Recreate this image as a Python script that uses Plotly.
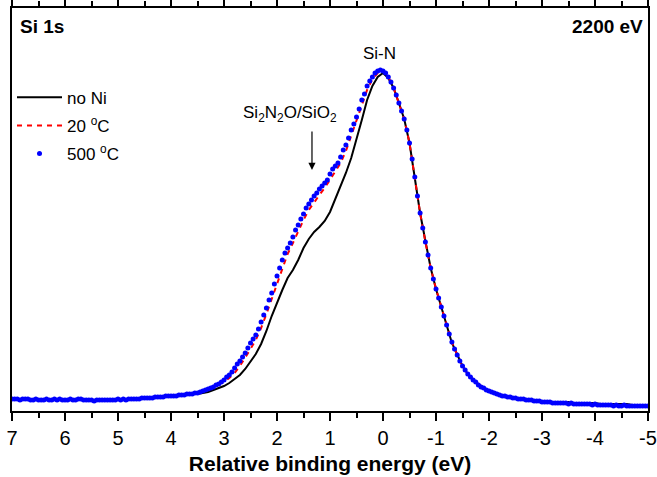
import numpy as np
import plotly.graph_objects as go

# Intensities (arbitrary units) vs relative binding energy (eV), from 7 to -5 eV
no_ni = [12, 12, 12, 12, 12, 12, 11, 11, 11, 11,
         11, 11, 11, 11, 11, 11, 11, 11, 11, 11,
         12, 12, 12, 12, 12, 12, 13, 13, 14, 14,
         15, 15, 16, 16, 17, 17, 18, 19, 21, 23,
         25, 28, 32, 36, 42, 49, 57, 67, 80, 95,
         109, 121, 133, 141, 151, 163, 172, 179, 184, 190,
         199, 212, 226, 238, 253, 271, 291, 311, 325, 334,
         338, 333, 323, 308, 292, 268, 232, 198, 170, 143,
         122, 105, 86, 68, 56, 45, 37, 31, 27, 23,
         20, 18, 16, 15, 14, 13, 13, 12, 11, 10,
         10, 9, 9, 9, 9, 9, 8, 8, 8, 8,
         8, 7, 7, 7, 7, 7, 7, 6, 6, 6,
         6]

t20 = [12, 12, 12, 12, 11, 12, 11, 11, 12, 11,
       11, 12, 11, 12, 12, 11, 11, 11, 12, 11,
       12, 12, 12, 12, 12, 13, 13, 14, 14, 15,
       15, 15, 16, 17, 17, 18, 20, 22, 24, 27,
       29, 33, 38, 45, 53, 62, 71, 83, 97, 112,
       128, 144, 157, 168, 180, 191, 201, 209, 216, 223,
       231, 240, 248, 260, 275, 289, 305, 321, 332, 338,
       340, 334, 323, 308, 292, 268, 234, 198, 169, 143,
       122, 104, 86, 69, 56, 45, 37, 31, 27, 23,
       20, 18, 16, 15, 14, 13, 12, 12, 11, 10,
       10, 9, 9, 8, 9, 8, 8, 7, 8, 7,
       7, 6, 7, 6, 6, 6, 5, 6, 5, 5,
       5]

t500 = [12, 12, 12, 11, 12, 12, 12, 11, 11, 12,
        11, 11, 11, 12, 11, 11, 12, 11, 12, 11,
        11, 11, 12, 11, 11, 12, 12, 11, 11, 11,
        11, 10, 11, 11, 11, 11, 11, 11, 11, 11,
        12, 11, 12, 11, 12, 12, 12, 12, 12, 13,
        13, 13, 13, 13, 14, 14, 14, 14, 15, 15,
        15, 15, 15, 16, 16, 16, 17, 17, 17, 18,
        18, 19, 20, 21, 22, 23, 24, 26, 27, 29,
        31, 34, 36, 39, 43, 47, 50, 54, 58, 63,
        68, 72, 76, 82, 89, 96, 103, 111, 118, 127,
        135, 143, 151, 158, 163, 168, 174, 181, 186, 192,
        197, 203, 207, 211, 215, 218, 222, 225, 228, 231,
        237, 242, 245, 248, 254, 261, 266, 273, 281, 287,
        294, 302, 311, 317, 325, 330, 334, 338, 340, 341,
        340, 338, 334, 329, 323, 316, 308, 300, 292, 281,
        268, 252, 234, 215, 198, 183, 169, 156, 143, 132,
        122, 113, 104, 95, 86, 77, 69, 62, 56, 50,
        45, 41, 37, 34, 31, 29, 26, 24, 23, 21,
        20, 19, 18, 17, 16, 15, 15, 14, 14, 13,
        13, 12, 12, 12, 11, 11, 11, 10, 10, 10,
        9, 9, 9, 9, 8, 8, 8, 8, 8, 8,
        7, 8, 7, 7, 7, 7, 7, 7, 7, 6,
        7, 6, 6, 6, 6, 6, 6, 5, 6, 5,
        5, 6, 5, 5, 5, 5, 5, 5, 5, 5,
        5]

E_START, E_END = 7.0, -5.0
e_coarse = np.linspace(E_START, E_END, len(no_ni))
e_fine = np.linspace(E_START, E_END, len(t500))

tick_vals = [7, 6, 5, 4, 3, 2, 1, 0, -1, -2, -3, -4, -5]
tick_text = ["7", "6", "5", "4", "3", "2", "1", "0", "-1", "-2", "-3", "-4", "-5"]

FONT = "Arial, Liberation Sans, sans-serif"

fig = go.Figure()
fig.add_trace(go.Scatter(x=e_coarse, y=no_ni, mode="lines", name="no Ni",
                         legendgroup="a",
                         line=dict(color="black", width=2)))
fig.add_trace(go.Scatter(x=e_coarse, y=t20, mode="lines", name="20 <sup>o</sup>C",
                         legendgroup="b",
                         line=dict(color="#ff0000", width=2, dash="5px,5px")))
fig.add_trace(go.Scatter(x=e_fine, y=t500, mode="markers", name="500 <sup>o</sup>C",
                         legendgroup="c",
                         marker=dict(color="#0000ff", size=5)))

fig.update_layout(
    width=657, height=477,
    margin=dict(l=12, r=9, t=8, b=66),
    paper_bgcolor="white", plot_bgcolor="white",
    font=dict(family=FONT, color="black"),
    showlegend=True,
    legend=dict(x=0.0, y=0.822, xanchor="left", yanchor="top",
                bgcolor="rgba(0,0,0,0)", font=dict(size=17, family=FONT),
                tracegroupgap=3, itemwidth=45),
    xaxis=dict(range=[E_START, E_END], showgrid=False, zeroline=False,
               showline=True, linecolor="black", linewidth=1.6, mirror="ticks",
               ticks="outside", ticklen=8, tickwidth=1.5, tickcolor="black",
               tickvals=tick_vals, ticktext=tick_text,
               tickfont=dict(size=20, family=FONT),
               minor=dict(dtick=0.5, ticks="outside", ticklen=5, tickwidth=1.5,
                          tickcolor="black", showgrid=False),
               title=dict(text="<b>Relative binding energy (eV)</b>",
                          font=dict(size=21, family=FONT), standoff=9),
               automargin=False),
    yaxis=dict(range=[0, 403], showgrid=False, zeroline=False,
               showline=True, linecolor="black", linewidth=1.6, mirror=True,
               ticks="", showticklabels=False, automargin=False),
)

fig.add_annotation(x=0.009, y=0.955, xref="paper", yref="paper", text="<b>Si 1s</b>",
                   showarrow=False, xanchor="left", yanchor="middle",
                   font=dict(size=19, family=FONT))
fig.add_annotation(x=0.995, y=0.955, xref="paper", yref="paper", text="<b>2200 eV</b>",
                   showarrow=False, xanchor="right", yanchor="middle",
                   font=dict(size=19, family=FONT))
fig.add_annotation(x=0.06, y=358, xref="x", yref="y", text="Si-N",
                   showarrow=False, xanchor="center", yanchor="middle",
                   font=dict(size=17, family=FONT))
fig.add_annotation(x=1.75, y=297, xref="x", yref="y",
                   text="Si<sub>2</sub>N<sub>2</sub>O/SiO<sub>2</sub>",
                   showarrow=False, xanchor="center", yanchor="middle",
                   font=dict(size=17, family=FONT))
fig.add_annotation(x=1.34, y=241, xref="x", yref="y", ax=1.34, ay=281,
                   axref="x", ayref="y", text="", showarrow=True,
                   arrowhead=2, arrowsize=1.2, arrowwidth=1.2, arrowcolor="black")

fig.write_html("out.html", config={"displayModeBar": False},
               post_script="document.body.style.margin='0';document.body.style.padding='0';")
